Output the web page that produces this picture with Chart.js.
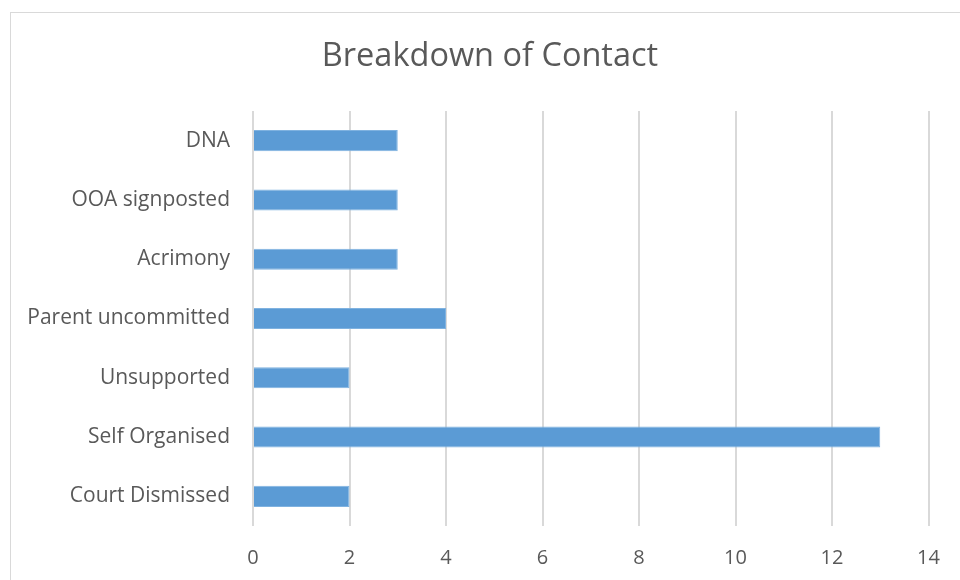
<!DOCTYPE html>
<html>
<head>
<meta charset="utf-8">
<script src="https://cdn.jsdelivr.net/npm/chart.js@4"></script>
<style>
  html, body { margin: 0; padding: 0; background: #fff; overflow: hidden; }
  #frame { position: absolute; left: 10px; top: 12px; width: 1000px; height: 1000px; border: 1px solid #d9d9d9; }
  #wrap { position: absolute; left: 0; top: 0; width: 960px; height: 580px; }
</style>
</head>
<body>
<div id="frame"></div>
<div id="wrap"><canvas id="contact-chart"></canvas></div>
<script>
// categories top to bottom, as shown
var categories = ["DNA", "OOA signposted", "Acrimony", "Parent uncommitted", "Unsupported", "Self Organised", "Court Dismissed"];
var counts = [3, 3, 3, 4, 2, 13, 2];
var xTicks = [0, 2, 4, 6, 8, 10, 12, 14];
var chartTitle = "Breakdown of Contact";

var font = "'Open Sans', sans-serif";

// title drawn by hand so it can sit centred on the whole frame
var titlePlugin = {
  id: "frameTitle",
  afterDraw: function(chart) {
    var c = chart.ctx;
    c.save();
    c.font = "32.5px " + font;
    c.fillStyle = "#595959";
    c.textAlign = "center";
    c.textBaseline = "middle";
    c.fillText(chartTitle, 490, 57);
    c.restore();
  }
};

let config = {
  type: "bar",
  data: {
    labels: categories,
    datasets: [{
      data: counts,
      backgroundColor: "#5b9bd5",
      borderColor: "#7fb2e0",
      borderWidth: 1,
      barPercentage: 0.355,
      categoryPercentage: 1
    }]
  },
  plugins: [titlePlugin],
  options: {
    indexAxis: "y",
    responsive: false,
    animation: false,
    layout: { padding: { left: 10, top: 111, right: 31.5, bottom: 0 } },
    plugins: {
      legend: { display: false },
      tooltip: { enabled: false },
      title: { display: false }
    },
    scales: {
      x: {
        min: xTicks[0],
        max: xTicks[xTicks.length - 1],
        afterBuildTicks: function(scale) { scale.ticks = xTicks.map(v => ({ value: v })); },
        afterFit: function(scale) { scale.height = 54; },
        grid: { color: "#d9d9d9", lineWidth: 2, drawTicks: false },
        border: { display: false },
        ticks: { color: "#595959", padding: 20, font: { family: font, size: 20 } }
      },
      y: {
        afterFit: function(scale) { scale.width = 243; },
        grid: { display: false, drawTicks: false },
        border: { display: false },
        ticks: { color: "#595959", padding: 23, font: { family: font, size: 21 } }
      }
    }
  }
};
let ctx = document.getElementById("contact-chart");
ctx.width = 960;
ctx.height = 580;
window.myBar = new Chart(ctx.getContext("2d"), config);
</script>
</body>
</html>
